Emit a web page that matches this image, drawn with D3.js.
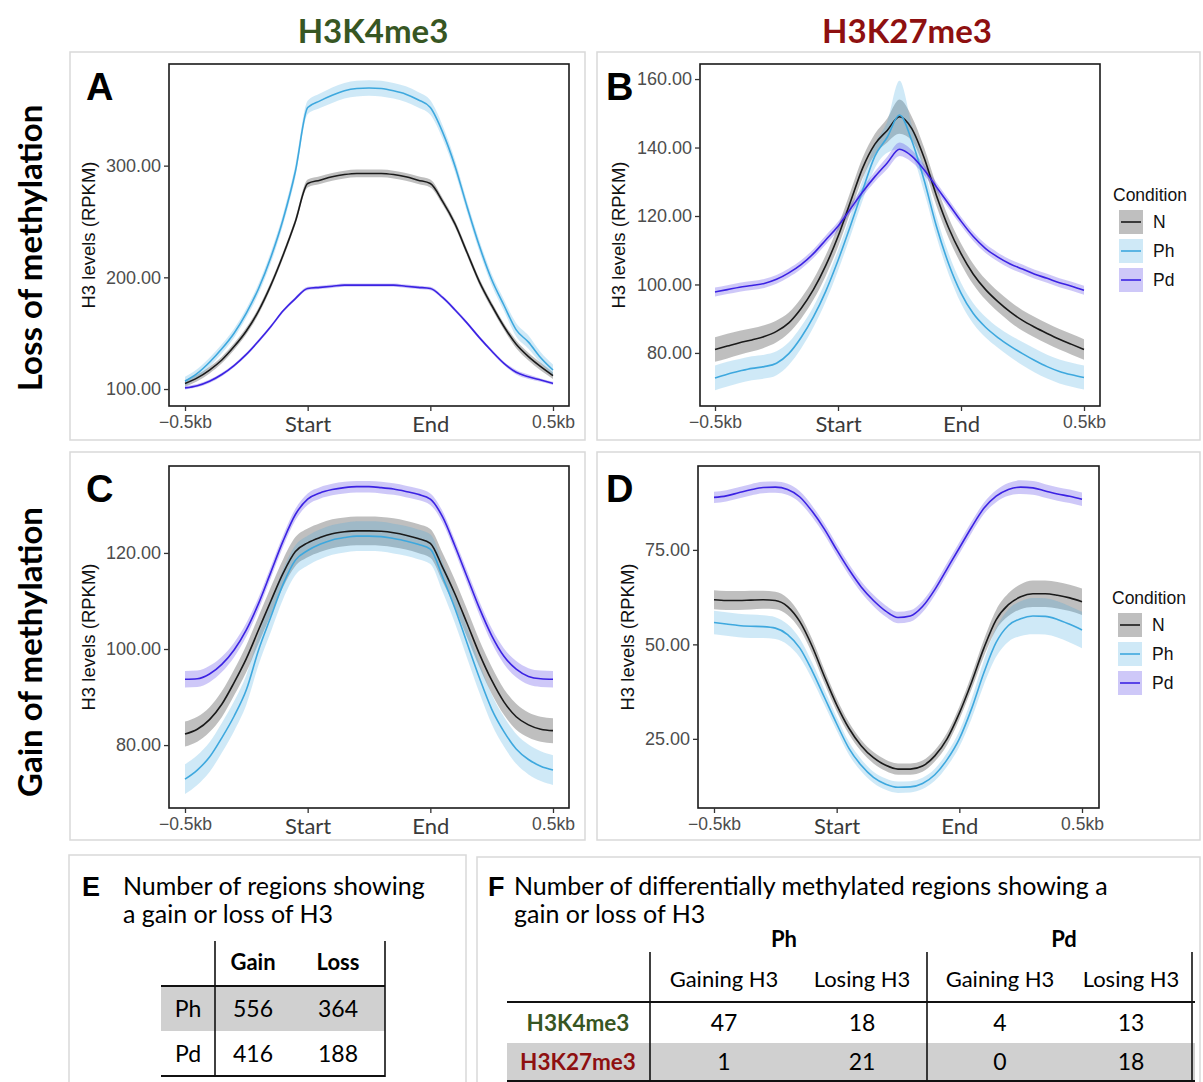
<!DOCTYPE html>
<html>
<head>
<meta charset="utf-8">
<script src="https://cdn.jsdelivr.net/npm/d3@7"></script>
<style>
  body { margin: 0; background: #fff; }
</style>
</head>
<body>
<svg id="fig" width="1203" height="1082"></svg>
<script>
// bin positions: -0.5kb = 0, Start = 1, End = 2, 0.5kb = 3
const xBins = [0, 0.1, 0.2, 0.3, 0.4, 0.5, 0.6, 0.7, 0.8, 0.9, 1.0,
  1.1, 1.2, 1.3, 1.4, 1.5, 1.6, 1.7, 1.8, 1.9, 2.0,
  2.1, 2.2, 2.3, 2.4, 2.5, 2.6, 2.7, 2.8, 2.9, 3.0];
const xTickValues = [0, 1, 2, 3];
const xTickLabels = ["\u22120.5kb", "Start", "End", "0.5kb"];
const conditions = ["N", "Ph", "Pd"];

// --- A : H3K4me3, loss of methylation ---
const A_N = [105, 110, 117, 126, 138, 152, 170, 193, 220, 250, 284, 287, 290, 292, 293, 293, 293, 292, 290, 287, 284, 268, 248, 222, 196, 175, 156, 140, 129, 120, 112];
const A_Ph = [107, 114, 124, 136, 150, 168, 190, 218, 252, 295, 352, 358, 363, 367, 369, 369.5, 369, 367, 364, 359, 352, 330, 300, 263, 228, 198, 175, 153, 142, 128, 117];
const A_Pd = [101, 103, 107, 113, 121, 131, 143, 156, 170, 181, 190, 191, 192, 193, 193, 193, 193, 193, 192, 191, 190, 182, 171, 159, 146, 134, 123, 115, 111, 108, 105];
const A_N_se = [3, 3, 3, 3, 3, 3, 3, 3, 3, 3, 3.5, 3.5, 3.5, 3.5, 3.5, 3.5, 3.5, 3.5, 3.5, 3.5, 3.5, 3, 3, 3, 3, 3, 3, 3.5, 3.5, 3.5, 3];
const A_Ph_se = [4, 4, 4, 4, 4, 4, 4.5, 5, 5, 5.5, 6, 6.5, 7, 7, 7, 7, 7, 7, 7, 7, 6.5, 6, 5.5, 5, 5, 5, 5, 6, 6, 5, 5];
const A_Pd_se = [1.5, 1.5, 1.5, 1.5, 1.5, 1.5, 1.5, 1.5, 1.5, 1.5, 1.5, 1.5, 1.5, 1.5, 1.5, 1.5, 1.5, 1.5, 1.5, 1.5, 1.5, 1.5, 1.5, 1.5, 1.5, 1.5, 1.5, 2, 2, 1.5, 1.5];

// --- B : H3K27me3, loss of methylation ---
const B_N = [81, 82, 83, 83.8, 84.8, 86.3, 88.8, 93, 98.5, 105.5, 114, 124, 134, 141, 145, 149, 145.5, 137, 126, 116.5, 109, 103, 98.5, 95, 92, 89.5, 87.5, 85.7, 84, 82.5, 81];
const B_Ph = [72.7, 73.8, 74.7, 75.5, 76, 77, 79.8, 84.5, 90.5, 98, 107, 117, 127.5, 137.5, 143, 149.5, 142, 130.5, 117, 106, 97.5, 91.5, 87.5, 84.5, 82, 79.8, 77.8, 76, 74.6, 73.6, 72.8];
const B_Pd = [97.8, 98.5, 99.2, 99.7, 100.3, 101.5, 103.4, 105.8, 109, 113, 117, 122, 127, 131.5, 135.5, 139.5, 137.5, 133.5, 128.5, 123.5, 118.5, 114, 110.5, 108, 106, 104.5, 103, 101.8, 100.5, 99.5, 98.3];
const B_N_se = [3.6, 3.6, 3.5, 3.4, 3.3, 3.2, 3, 3, 3, 3, 3, 3, 3, 3, 3.5, 5, 3.5, 3, 3, 3, 3, 3, 3, 3, 3, 3, 3, 3, 3, 3, 3];
const B_Ph_se = [3.6, 3.6, 3.5, 3.5, 3.5, 3.5, 3.3, 3.2, 3, 3, 3, 3, 3, 3.5, 4.5, 10, 4.5, 3.5, 3, 3, 3, 3, 3, 3, 3.2, 3.4, 3.5, 3.5, 3.5, 3.5, 3.5];
const B_Pd_se = [1.3, 1.3, 1.3, 1.3, 1.3, 1.3, 1.3, 1.3, 1.3, 1.3, 1.3, 1.3, 1.3, 1.5, 1.8, 2, 1.8, 1.5, 1.3, 1.3, 1.3, 1.3, 1.3, 1.3, 1.3, 1.3, 1.3, 1.3, 1.3, 1.3, 1.3];

// --- C : H3K4me3, gain of methylation ---
const C_N = [82.3, 83.3, 85.3, 88.5, 93, 98, 104, 110, 115.8, 120.3, 122.1, 123.2, 124, 124.4, 124.6, 124.6, 124.5, 124.2, 123.7, 123, 122, 117, 111.5, 105.3, 99, 93.5, 89, 85.9, 84.2, 83.3, 83];
const C_Ph = [72.9, 74.8, 77.5, 81.5, 86, 91.5, 99.8, 106.7, 113.5, 118.5, 120.5, 121.8, 122.7, 123.2, 123.5, 123.5, 123.4, 123, 122.5, 121.8, 120.8, 115, 108.5, 101.2, 94, 87.5, 82.8, 79.2, 77, 75.6, 74.8];
const C_Pd = [93.7, 93.8, 94.8, 96.8, 99.8, 104, 109.5, 116, 122.5, 128, 131.2, 132.5, 133.2, 133.6, 133.8, 133.8, 133.6, 133.3, 132.8, 132.2, 131.2, 127.5, 121.5, 115, 108.5, 102.8, 98.5, 95.8, 94.3, 93.8, 93.7];
const C_N_se = [2.6, 2.6, 2.6, 2.7, 2.7, 2.8, 2.8, 2.9, 2.9, 3, 3, 3, 3, 3, 3, 3, 3, 3, 3, 3, 3, 3, 2.9, 2.9, 2.8, 2.8, 2.7, 2.7, 2.6, 2.6, 2.6];
const C_Ph_se = [3.1, 3.1, 3.1, 3.1, 3.1, 3.1, 3.1, 3.1, 3.1, 3.1, 3.1, 3.1, 3.1, 3.1, 3.1, 3.1, 3.1, 3.1, 3.1, 3.1, 3.1, 3.1, 3.1, 3.1, 3.1, 3.1, 3.1, 3.1, 3.1, 3.1, 3.1];
const C_Pd_se = [1.7, 1.7, 1.7, 1.6, 1.5, 1.4, 1.3, 1.2, 1.2, 1.2, 1.2, 1.2, 1.2, 1.2, 1.2, 1.2, 1.2, 1.2, 1.2, 1.2, 1.2, 1.2, 1.2, 1.3, 1.4, 1.5, 1.6, 1.7, 1.7, 1.7, 1.7];

// --- D : H3K27me3, gain of methylation ---
const D_N = [61.8, 61.6, 61.6, 61.7, 61.8, 61.6, 60, 56, 49.5, 41.5, 34, 27.8, 23.2, 20, 18, 17, 17, 17.8, 20.5, 25, 31.8, 40, 49, 56.5, 60.5, 62.6, 63.4, 63.4, 63, 62.3, 61.3];
const D_Ph = [55.8, 55.4, 55, 54.8, 54.7, 54.3, 52.6, 49, 43, 36, 29, 22.5, 18, 14.8, 13, 12.2, 12.3, 13.2, 15.5, 19.5, 25, 33, 42.5, 50.5, 55, 56.8, 57.5, 57.4, 56.6, 55.3, 53.8];
const D_Pd = [88.9, 89.3, 90.1, 90.9, 91.5, 91.6, 91, 89, 85.2, 80.5, 75, 69.8, 65.2, 61.6, 58.8, 57.1, 57.5, 60, 64.5, 70, 75.5, 81, 86, 89.2, 91, 91.6, 91.4, 90.6, 89.8, 89.2, 88.4];
const D_N_se = [2.5, 2.5, 2.5, 2.5, 2.4, 2.3, 2.2, 2, 1.9, 1.8, 1.7, 1.6, 1.5, 1.5, 1.5, 1.5, 1.5, 1.5, 1.5, 1.6, 1.7, 1.9, 2.2, 2.6, 3, 3.3, 3.5, 3.5, 3.5, 3.5, 3.5];
const D_Ph_se = [3.1, 3.1, 3.1, 3.1, 3, 2.9, 2.7, 2.5, 2.2, 2, 1.8, 1.7, 1.6, 1.5, 1.5, 1.5, 1.5, 1.5, 1.6, 1.8, 2.1, 2.6, 3.2, 3.8, 4.3, 4.6, 4.8, 4.8, 4.8, 4.8, 4.8];
const D_Pd_se = [1.5, 1.5, 1.5, 1.5, 1.5, 1.5, 1.5, 1.5, 1.5, 1.5, 1.5, 1.5, 1.5, 1.5, 1.5, 1.5, 1.5, 1.5, 1.5, 1.5, 1.5, 1.5, 1.5, 1.6, 1.7, 1.8, 1.8, 1.8, 1.8, 1.8, 1.8];

// y ticks per panel
const A_yTicks = [100, 200, 300];
const B_yTicks = [80, 100, 120, 140, 160];
const C_yTicks = [80, 100, 120];
const D_yTicks = [25, 50, 75];

// --- tables ---
const tableE_cols = ["Gain", "Loss"];
const tableE_rows = ["Ph", "Pd"];
const tableE_vals = [[556, 364], [416, 188]];

const tableF_groups = ["Ph", "Pd"];
const tableF_cols = ["Gaining H3", "Losing H3", "Gaining H3", "Losing H3"];
const tableF_rows = ["H3K4me3", "H3K27me3"];
const tableF_vals = [[47, 18, 4, 13], [1, 21, 0, 18]];

//--- styling ---//
const lineColor = { N: "#1a1a1a", Ph: "#3ea8de", Pd: "#3b22e3" };
const bandColor = { N: "#000000", Ph: "#3ea8de", Pd: "#3b22e3" };
const bandOpacity = 0.25;
const green = "#375623";
const darkRed = "#8e1010";
const arial = "'Liberation Sans', Arial, sans-serif";
const calibri = "Lato, 'Open Sans', sans-serif";

const svg = d3.select("#fig");

// panel layouts (pixels) with their series
const panels = [
  { id: "A", box: [70, 52, 585, 440], left: 169, right: 569, top: 64, bottom: 406, x0: 185, x3: 553,
    yDomain: [84.8, 391], yTicks: A_yTicks, ylabX: 95, letter: [86, 100],
    series: { N: [A_N, A_N_se], Ph: [A_Ph, A_Ph_se], Pd: [A_Pd, A_Pd_se] } },
  { id: "B", box: [597, 52, 1200, 440], left: 700, right: 1100, top: 64, bottom: 406, x0: 715, x3: 1084,
    yDomain: [64.5, 164.4], yTicks: B_yTicks, ylabX: 625, letter: [606, 100], legendY: 195,
    series: { N: [B_N, B_N_se], Ph: [B_Ph, B_Ph_se], Pd: [B_Pd, B_Pd_se] } },
  { id: "C", box: [70, 452, 585, 840], left: 169, right: 569, top: 466, bottom: 808, x0: 185, x3: 553,
    yDomain: [66.9, 138.1], yTicks: C_yTicks, ylabX: 95, letter: [86, 502],
    series: { N: [C_N, C_N_se], Ph: [C_Ph, C_Ph_se], Pd: [C_Pd, C_Pd_se] } },
  { id: "D", box: [597, 452, 1200, 840], left: 698, right: 1099, top: 466, bottom: 808, x0: 714, x3: 1082,
    yDomain: [6.7, 97.2], yTicks: D_yTicks, ylabX: 634, letter: [606, 502], legendY: 598,
    series: { N: [D_N, D_N_se], Ph: [D_Ph, D_Ph_se], Pd: [D_Pd, D_Pd_se] } },
];

function drawPanel(p) {
  const g = svg.append("g").attr("class", "panel-" + p.id);

  // light grey frame around the panel
  g.append("rect")
    .attr("x", p.box[0]).attr("y", p.box[1])
    .attr("width", p.box[2] - p.box[0]).attr("height", p.box[3] - p.box[1])
    .attr("fill", "none").attr("stroke", "#d9d9d9").attr("stroke-width", 1.5);

  const xScale = d3.scaleLinear().domain([0, 3]).range([p.x0, p.x3]);
  const yScale = d3.scaleLinear().domain(p.yDomain).range([p.bottom, p.top]);

  // ribbons first, then lines (ggplot layer order)
  conditions.forEach((c) => {
    const [vals, se] = p.series[c];
    const area = d3.area()
      .x((d, i) => xScale(xBins[i]))
      .y0((d, i) => yScale(d - se[i]))
      .y1((d, i) => yScale(d + se[i]))
      .curve(d3.curveMonotoneX);
    g.append("path").datum(vals)
      .attr("d", area)
      .attr("fill", bandColor[c])
      .attr("fill-opacity", bandOpacity);
  });
  conditions.forEach((c) => {
    const vals = p.series[c][0];
    const line = d3.line()
      .x((d, i) => xScale(xBins[i]))
      .y((d) => yScale(d))
      .curve(d3.curveMonotoneX);
    g.append("path").datum(vals)
      .attr("d", line)
      .attr("fill", "none")
      .attr("stroke", lineColor[c])
      .attr("stroke-width", 1.6);
  });

  // plot border
  g.append("rect")
    .attr("x", p.left).attr("y", p.top)
    .attr("width", p.right - p.left).attr("height", p.bottom - p.top)
    .attr("fill", "none").attr("stroke", "#1a1a1a").attr("stroke-width", 1.6);

  // y-axis
  const yAxis = d3.axisLeft(yScale).tickValues(p.yTicks).tickFormat(d3.format(".2f"))
    .tickSize(5).tickPadding(3);
  const ya = g.append("g").attr("transform", "translate(" + p.left + ",0)").call(yAxis);
  ya.select(".domain").remove();
  ya.selectAll("line").attr("stroke", "#333").attr("stroke-width", 1.3);
  ya.selectAll("text").attr("fill", "#4d4d4d").style("font-family", arial).style("font-size", "18px");

  // x-axis
  const xAxis = d3.axisBottom(xScale).tickValues(xTickValues)
    .tickFormat((d, i) => xTickLabels[i]).tickSize(5).tickPadding(5);
  const xa = g.append("g").attr("transform", "translate(0," + p.bottom + ")").call(xAxis);
  xa.select(".domain").remove();
  xa.selectAll("line").attr("stroke", "#333").attr("stroke-width", 1.3);
  xa.selectAll("text")
    .attr("fill", (d, i) => (i === 1 || i === 2 ? "#3a3a3a" : "#4d4d4d"))
    .style("font-family", (d, i) => (i === 1 || i === 2 ? calibri : arial))
    .style("font-size", (d, i) => (i === 1 || i === 2 ? "22px" : "17.5px"));

  // y title
  g.append("text")
    .attr("transform", "translate(" + p.ylabX + "," + (p.top + p.bottom) / 2 + ") rotate(-90)")
    .attr("text-anchor", "middle")
    .style("font-family", arial).style("font-size", "18.5px").attr("fill", "#111")
    .text("H3 levels (RPKM)");

  // panel letter
  g.append("text")
    .attr("x", p.letter[0]).attr("y", p.letter[1])
    .style("font-family", arial).style("font-weight", "bold").style("font-size", "38px")
    .text(p.id);

  if (p.legendY) drawLegend(g, p.right + 13, p.legendY);
}

function drawLegend(g, x, y) {
  g.append("text").attr("x", x).attr("y", y + 6)
    .style("font-family", arial).style("font-size", "17.5px").attr("fill", "#111")
    .text("Condition");
  conditions.forEach((c, i) => {
    const ky = y + 15 + i * 29;
    g.append("rect").attr("x", x + 6).attr("y", ky).attr("width", 24).attr("height", 24)
      .attr("fill", bandColor[c]).attr("fill-opacity", bandOpacity);
    g.append("line").attr("x1", x + 8).attr("x2", x + 28).attr("y1", ky + 12).attr("y2", ky + 12)
      .attr("stroke", lineColor[c]).attr("stroke-width", 1.6);
    g.append("text").attr("x", x + 40).attr("y", ky + 18)
      .style("font-family", arial).style("font-size", "17.5px").attr("fill", "#111")
      .text(c);
  });
}

panels.forEach(drawPanel);

// column headers
svg.append("text").attr("x", 373).attr("y", 43).attr("text-anchor", "middle")
  .style("font-family", calibri).style("font-weight", "bold").style("font-size", "33px")
  .attr("fill", green).text("H3K4me3");
svg.append("text").attr("x", 907).attr("y", 43).attr("text-anchor", "middle")
  .style("font-family", calibri).style("font-weight", "bold").style("font-size", "33px")
  .attr("fill", darkRed).text("H3K27me3");

// row labels
svg.append("text").attr("transform", "translate(42,248) rotate(-90)").attr("text-anchor", "middle")
  .style("font-family", calibri).style("font-weight", "bold").style("font-size", "33px")
  .text("Loss of methylation");
svg.append("text").attr("transform", "translate(42,652) rotate(-90)").attr("text-anchor", "middle")
  .style("font-family", calibri).style("font-weight", "bold").style("font-size", "33px")
  .text("Gain of methylation");

//--- Table E ---//
const gE = svg.append("g");
gE.append("rect").attr("x", 69).attr("y", 855).attr("width", 397).attr("height", 240)
  .attr("fill", "none").attr("stroke", "#d9d9d9").attr("stroke-width", 1.5);
gE.append("text").attr("x", 82).attr("y", 896)
  .style("font-family", arial).style("font-weight", "bold").style("font-size", "27px").text("E");
gE.append("text").attr("x", 123).attr("y", 895)
  .style("font-family", calibri).style("font-size", "25px").text("Number of regions showing");
gE.append("text").attr("x", 123).attr("y", 923)
  .style("font-family", calibri).style("font-size", "25px").text("a gain or loss of H3");

const eRowY = [986, 1031, 1076];
const eColX = [188, 253, 338];
gE.append("rect").attr("x", 161).attr("y", eRowY[0]).attr("width", 224).attr("height", eRowY[1] - eRowY[0])
  .attr("fill", "#d0d0d0");
tableE_cols.forEach((c, j) => {
  gE.append("text").attr("x", eColX[j + 1]).attr("y", 970).attr("text-anchor", "middle")
    .style("font-family", calibri).style("font-weight", "bold").style("font-size", "22px").text(c);
});
tableE_rows.forEach((r, i) => {
  const by = eRowY[i] + 31;
  gE.append("text").attr("x", eColX[0]).attr("y", by).attr("text-anchor", "middle")
    .style("font-family", calibri).style("font-size", "23px").text(r);
  tableE_vals[i].forEach((v, j) => {
    gE.append("text").attr("x", eColX[j + 1]).attr("y", by).attr("text-anchor", "middle")
      .style("font-family", calibri).style("font-size", "23px").text(v);
  });
});
gE.append("line").attr("x1", 161).attr("x2", 385).attr("y1", eRowY[0]).attr("y2", eRowY[0])
  .attr("stroke", "#111").attr("stroke-width", 2);
gE.append("line").attr("x1", 161).attr("x2", 385).attr("y1", eRowY[2]).attr("y2", eRowY[2])
  .attr("stroke", "#111").attr("stroke-width", 2);
[215, 385].forEach((vx) => {
  gE.append("line").attr("x1", vx).attr("x2", vx).attr("y1", 941).attr("y2", 1077)
    .attr("stroke", "#111").attr("stroke-width", 1.6);
});

//--- Table F ---//
const gF = svg.append("g");
gF.append("rect").attr("x", 477).attr("y", 857).attr("width", 723).attr("height", 240)
  .attr("fill", "none").attr("stroke", "#d9d9d9").attr("stroke-width", 1.5);
gF.append("text").attr("x", 488).attr("y", 896)
  .style("font-family", arial).style("font-weight", "bold").style("font-size", "27px").text("F");
gF.append("text").attr("x", 514).attr("y", 895)
  .style("font-family", calibri).style("font-size", "25px")
  .text("Number of differentially methylated regions showing a");
gF.append("text").attr("x", 514).attr("y", 923)
  .style("font-family", calibri).style("font-size", "25px").text("gain or loss of H3");

const fRowY = [1002, 1043, 1081];
const fColX = [578, 724, 862, 1000, 1131];
const fGroupX = [784, 1064];
gF.append("rect").attr("x", 507).attr("y", fRowY[1]).attr("width", 688).attr("height", fRowY[2] - fRowY[1])
  .attr("fill", "#d0d0d0");
tableF_groups.forEach((gname, k) => {
  gF.append("text").attr("x", fGroupX[k]).attr("y", 947).attr("text-anchor", "middle")
    .style("font-family", calibri).style("font-weight", "bold").style("font-size", "22px").text(gname);
});
tableF_cols.forEach((c, j) => {
  gF.append("text").attr("x", fColX[j + 1]).attr("y", 987).attr("text-anchor", "middle")
    .style("font-family", calibri).style("font-size", "22px").text(c);
});
tableF_rows.forEach((r, i) => {
  const by = fRowY[i] + 29 - (i === 0 ? 0 : 2);
  gF.append("text").attr("x", fColX[0]).attr("y", by).attr("text-anchor", "middle")
    .style("font-family", calibri).style("font-weight", "bold").style("font-size", "22.5px")
    .attr("fill", i === 0 ? green : darkRed).text(r);
  tableF_vals[i].forEach((v, j) => {
    gF.append("text").attr("x", fColX[j + 1]).attr("y", by).attr("text-anchor", "middle")
      .style("font-family", calibri).style("font-size", "23px").text(v);
  });
});
gF.append("line").attr("x1", 507).attr("x2", 1195).attr("y1", fRowY[0]).attr("y2", fRowY[0])
  .attr("stroke", "#111").attr("stroke-width", 2);
gF.append("line").attr("x1", 507).attr("x2", 1195).attr("y1", fRowY[2]).attr("y2", fRowY[2])
  .attr("stroke", "#111").attr("stroke-width", 2);
[650, 927, 1192].forEach((vx) => {
  gF.append("line").attr("x1", vx).attr("x2", vx).attr("y1", 952).attr("y2", 1082)
    .attr("stroke", "#111").attr("stroke-width", 1.6);
});
</script>
</body>
</html>
